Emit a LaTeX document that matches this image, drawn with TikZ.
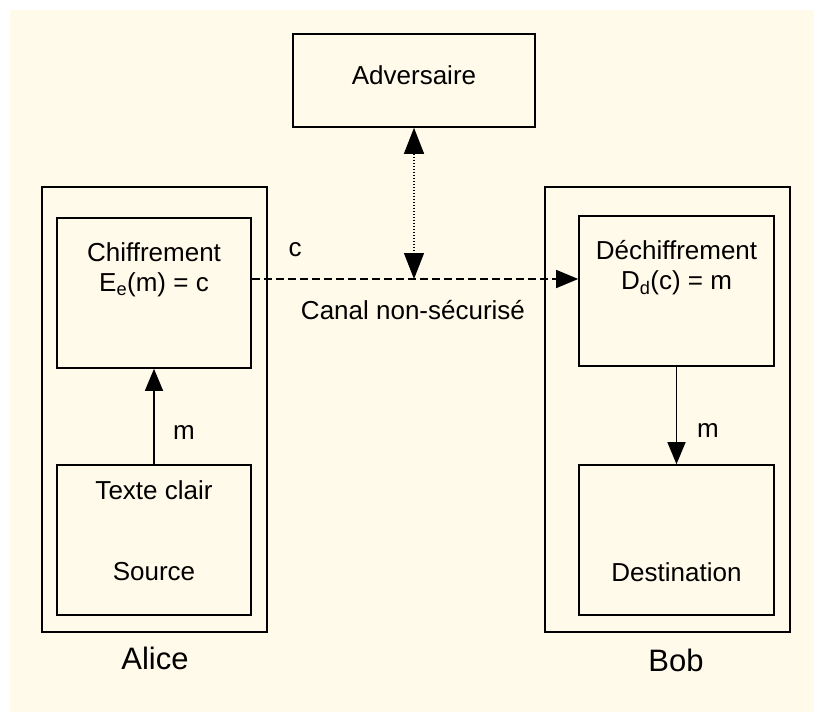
\documentclass[tikz,border=0pt]{standalone}
\usepackage{fontspec}
\setmainfont{Liberation Sans}
\usetikzlibrary{positioning,arrows.meta}
\definecolor{creme}{RGB}{255,250,233}

\begin{document}
\begin{tikzpicture}[x=1pt,y=-1pt,font=\fontsize{26}{30}\selectfont,
    boite/.style={draw,line width=1.6pt,inner sep=0pt},
    nom/.style={font=\fontsize{31}{34}\selectfont},
    lien/.style={line width=1.4pt,-{Triangle[length=22pt,width=18pt]}}]
  \useasboundingbox (0,0) rectangle (814,712);
  \fill[creme] (10,10) rectangle (814,712);
  % boxes
  \node[boite,minimum width=242pt,minimum height=93pt] (adv) at (414,80.5) {};
  \node (advtxt) at (414,75) {Adversaire};
  \node[boite,minimum width=225pt,minimum height=445pt] (alice) at (154.5,409.5) {};
  \node[boite,minimum width=194pt,minimum height=150pt] (chif) at (154,293) {};
  \node[boite,minimum width=194pt,minimum height=150pt] (texte) at (154,540) {};
  \node[boite,minimum width=245pt,minimum height=445pt] (bob) at (667.5,409.5) {};
  \node[boite,minimum width=195pt,minimum height=150pt] (dechif) at (676.5,291) {};
  \node[boite,minimum width=195pt,minimum height=150pt] (dest) at (676.5,540) {};
  % texts
  \node[align=center] (chiftxt) at (154,270) {Chiffrement\\E\textsubscript{e}(m) = c};
  \node (textetxt) at (154,490) {Texte clair};
  \node (sourcetxt) at (154,572) {Source};
  \node[align=center] (dechiftxt) at (676.5,268) {Déchiffrement\\D\textsubscript{d}(c) = m};
  \node (desttxt) at (676.5,572) {Destination};
  \node[nom] (alicetxt) at (155,658) {Alice};
  \node[nom] (bobtxt) at (676,660) {Bob};
  % channel
  \coordinate (chan) at (414,279);
  \draw[lien,dash pattern=on 8pt off 4pt] (chif.east |- chan) -- (dechif.west |- chan);
  \draw[lien,line width=1.2pt,dash pattern=on 1.5pt off 1.5pt,
        {Triangle[length=26pt,width=20pt]}-{Triangle[length=26pt,width=20pt]}] (adv.south) -- (chan);
  \node (ctxt) at (295,250) {c};
  \node (canaltxt) at (413,310) {Canal non-sécurisé};
  \draw[lien] (texte.north) -- (chif.south);
  \node (m1) at (184,432) {m};
  \draw[lien] (dechif.south) -- (dest.north);
  \node (m2) at (708,430) {m};
\end{tikzpicture}
\end{document}
